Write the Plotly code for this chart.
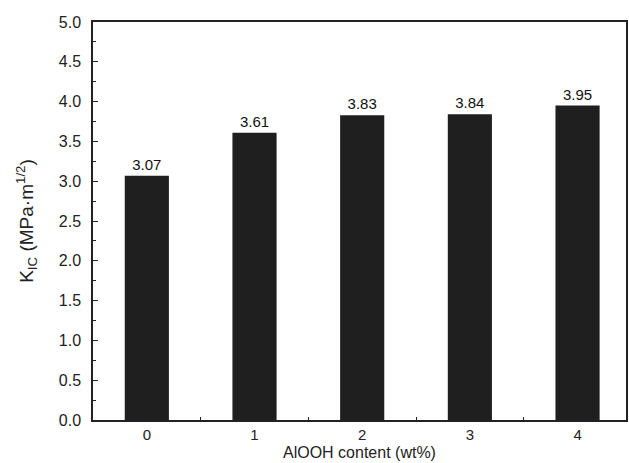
import plotly.graph_objects as go

categories = [0, 1, 2, 3, 4]
kic_values = [3.07, 3.61, 3.83, 3.84, 3.95]
value_labels = ["3.07", "3.61", "3.83", "3.84", "3.95"]
x_title = "AlOOH content (wt%)"
y_title = "K<sub>IC</sub> (MPa·m<sup>1/2</sup>)"

FONT = "Liberation Sans, Arial, sans-serif"

fig = go.Figure()
fig.add_trace(go.Bar(
    x=categories, y=kic_values, width=0.41,
    marker=dict(color="#1f1f1f", line=dict(width=0)),
    text=value_labels, textposition="outside", cliponaxis=False,
    textfont=dict(family=FONT, size=15, color="#111"),
))

fig.update_layout(
    width=629, height=463,
    margin=dict(l=93, r=1, t=22, b=43),
    paper_bgcolor="white", plot_bgcolor="white",
    showlegend=False,
    font=dict(family=FONT, size=15, color="#222"),
    xaxis=dict(
        range=[-0.5, 4.45], tickmode="array", tickvals=categories,
        ticktext=[str(c) for c in categories],
        tickfont=dict(size=15),
        showline=True, linecolor="#222", linewidth=1.5, mirror=True,
        ticks="inside", ticklen=5, tickcolor="#222", tickwidth=1.2,
        minor=dict(dtick=0.5, tick0=0, ticks="inside", ticklen=3, tickcolor="#222", showgrid=False),
        showgrid=False, zeroline=False,
        ticklabelstandoff=0,
    ),
    yaxis=dict(
        range=[0, 5.0], dtick=0.5, tickformat=".1f",
        tickfont=dict(size=16),
        showline=True, linecolor="#222", linewidth=1.5, mirror=True,
        ticks="inside", ticklen=5, tickcolor="#222", tickwidth=1.2,
        minor=dict(dtick=0.25, ticks="inside", ticklen=3, tickcolor="#222", showgrid=False),
        showgrid=False, zeroline=False,
        title=dict(text=y_title, font=dict(size=19), standoff=20),
        ticklabelstandoff=7,
    ),
    annotations=[dict(
        text=x_title, xref="paper", yref="paper", x=0.5, y=0,
        xanchor="center", yanchor="top", yshift=-24, showarrow=False,
        borderpad=0, borderwidth=0,
        font=dict(family=FONT, size=16, color="#222"),
    )],
)

fig.write_html(
    "out.html",
    config={"displayModeBar": False},
    post_script="document.body.style.margin='0';document.body.style.padding='0';",
)
